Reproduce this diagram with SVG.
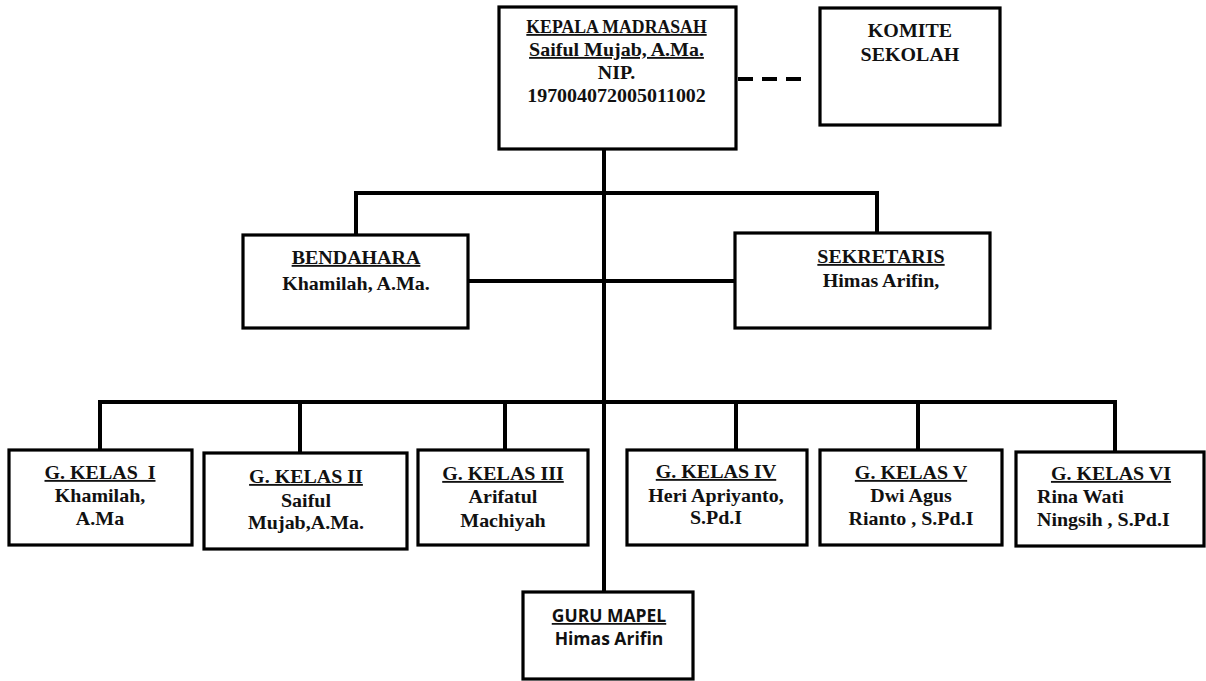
<svg xmlns="http://www.w3.org/2000/svg" width="1206" height="681" viewBox="0 0 1206 681">
<style>
.box{fill:#fff;stroke:#000;stroke-width:3.2}
.ln{fill:none;stroke:#000;stroke-width:4}
.dash{fill:none;stroke:#000;stroke-width:4;stroke-dasharray:15 9}
.t{font-family:"Liberation Serif","Times New Roman",serif;font-weight:bold;font-size:18.5px;fill:#111;text-anchor:middle}
.s{font-family:"Open Sans","Liberation Sans",sans-serif;font-weight:bold;font-size:17.5px;fill:#111;text-anchor:middle}
.u{text-decoration:underline}
.l{text-anchor:start}
</style>
<rect width="1206" height="681" fill="#fff"/>
<g id="connectors">
<line class="ln" x1="604" y1="149" x2="604" y2="592"/>
<polyline class="ln" points="356,235 356,193 877,193 877,233"/>
<line class="ln" x1="468" y1="281" x2="735" y2="281"/>
<line class="ln" x1="100" y1="402" x2="1115" y2="402"/>
<line class="ln" x1="100" y1="400" x2="100" y2="450"/>
<line class="ln" x1="300" y1="402" x2="300" y2="452"/>
<line class="ln" x1="505" y1="402" x2="505" y2="450"/>
<line class="ln" x1="736" y1="402" x2="736" y2="450"/>
<line class="ln" x1="918" y1="402" x2="918" y2="450"/>
<line class="ln" x1="1115" y1="400" x2="1115" y2="452"/>
<line class="dash" x1="738" y1="79" x2="803" y2="79"/>
</g>
<g id="kepala">
<rect class="box" x="499" y="7" width="237" height="142"/>
<g transform="translate(616.5 0) scale(1.08 1)">
<text class="t u" x="0" y="33" textLength="167" lengthAdjust="spacingAndGlyphs">KEPALA MADRASAH</text>
<text class="t u" x="0" y="56">Saiful Mujab, A.Ma.</text>
<text class="t" x="0" y="79">NIP.</text>
<text class="t" x="0" y="102">197004072005011002</text>
</g>
</g>
<g id="komite">
<rect class="box" x="820" y="8" width="180" height="117"/>
<g transform="translate(910 0) scale(1.08 1)">
<text class="t" x="0" y="37">KOMITE</text>
<text class="t" x="0" y="61">SEKOLAH</text>
</g>
</g>
<g id="bendahara">
<rect class="box" x="243" y="235" width="225" height="93"/>
<g transform="translate(356 0) scale(1.08 1)">
<text class="t u" x="0" y="264">BENDAHARA</text>
<text class="t" x="0" y="290">Khamilah, A.Ma.</text>
</g>
</g>
<g id="sekretaris">
<rect class="box" x="735" y="233" width="255" height="95"/>
<g transform="translate(881 0) scale(1.08 1)">
<text class="t u" x="0" y="263">SEKRETARIS</text>
<text class="t" x="0" y="287">Himas Arifin,</text>
</g>
</g>
<g id="kelas1">
<rect class="box" x="9" y="450" width="183" height="95"/>
<g transform="translate(100 0) scale(1.08 1)">
<text class="t u" x="0" y="479" xml:space="preserve">G. KELAS  I</text>
<text class="t" x="0" y="502">Khamilah,</text>
<text class="t" x="0" y="525">A.Ma</text>
</g>
</g>
<g id="kelas2">
<rect class="box" x="204" y="453" width="203" height="96"/>
<g transform="translate(306 0) scale(1.08 1)">
<text class="t u" x="0" y="483">G. KELAS II</text>
<text class="t" x="0" y="507">Saiful</text>
<text class="t" x="0" y="529">Mujab,A.Ma.</text>
</g>
</g>
<g id="kelas3">
<rect class="box" x="418" y="450" width="170" height="95"/>
<g transform="translate(503 0) scale(1.08 1)">
<text class="t u" x="0" y="480">G. KELAS III</text>
<text class="t" x="0" y="503">Arifatul</text>
<text class="t" x="0" y="527">Machiyah</text>
</g>
</g>
<g id="kelas4">
<rect class="box" x="627" y="450" width="180" height="95"/>
<g transform="translate(716 0) scale(1.08 1)">
<text class="t u" x="0" y="478">G. KELAS IV</text>
<text class="t" x="0" y="502">Heri Apriyanto,</text>
<text class="t" x="0" y="524">S.Pd.I</text>
</g>
</g>
<g id="kelas5">
<rect class="box" x="820" y="450" width="182" height="95"/>
<g transform="translate(911 0) scale(1.08 1)">
<text class="t u" x="0" y="479">G. KELAS V</text>
<text class="t" x="0" y="502">Dwi Agus</text>
<text class="t" x="0" y="525">Rianto , S.Pd.I</text>
</g>
</g>
<g id="kelas6">
<rect class="box" x="1016" y="452" width="188" height="94"/>
<g transform="translate(1111 0) scale(1.08 1)">
<text class="t u" x="0" y="480">G. KELAS VI</text>
<text class="t l" x="-68.5" y="503">Rina Wati</text>
<text class="t l" x="-68.5" y="526">Ningsih , S.Pd.I</text>
</g>
</g>
<g id="guru-mapel">
<rect class="box" x="523" y="592" width="170" height="87"/>
<text class="s u" x="609" y="622">GURU MAPEL</text>
<text class="s" x="609" y="645">Himas Arifin</text>
</g>
</svg>
